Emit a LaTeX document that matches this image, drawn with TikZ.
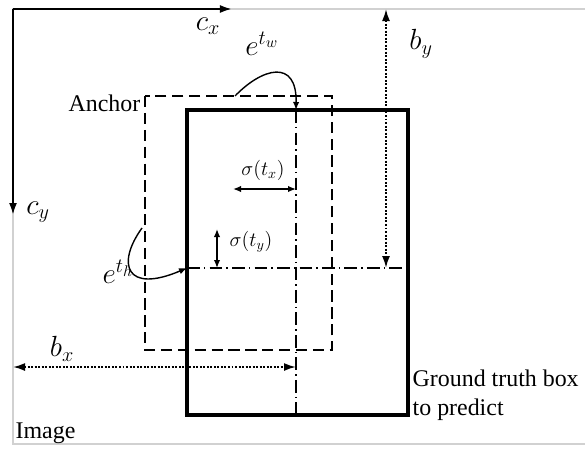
\documentclass[tikz,border=0pt]{standalone}
\usepackage{fontspec}
\setmainfont{Liberation Serif}
\usetikzlibrary{arrows.meta}

\begin{document}
\begin{tikzpicture}[
    x=0.025cm, y=-0.025cm,
    frame/.style={draw=black!18, line width=1.3pt},
    axis/.style={-{Latex[length=3mm, width=2mm]}, line width=1.5pt},
    anchorbox/.style={draw, dash pattern=on 8pt off 4pt, line width=1.3pt},
    gtbox/.style={draw, line width=2.3pt},
    centre/.style={line width=1.3pt, dash pattern=on 9pt off 3pt on 1pt off 3pt},
    offset/.style={{Latex[length=2mm, width=1.6mm]}-{Latex[length=2mm, width=1.6mm]}, line width=1pt},
    measure/.style={{Latex[length=3mm, width=2mm]}-{Latex[length=3mm, width=2mm]}, line width=1.3pt, dash pattern=on 1.4pt off 1.1pt},
    scalecurve/.style={-{Latex[length=2mm, width=1.6mm]}, line width=1pt},
    txt/.style={inner sep=1pt, font=\fontsize{17}{21}\selectfont},
    mathtxt/.style={inner sep=1pt, font=\fontsize{21}{23}\selectfont},
    sigtxt/.style={inner sep=1pt, font=\fontsize{14}{16}\selectfont}
]
\useasboundingbox (0,0) rectangle (585,448);

% image frame
\coordinate (origin) at (13,9);
\coordinate (cxend) at (232,9);
\coordinate (cyend) at (13,215);
\draw [frame] (585,9) -- (origin) -- (13,444) -- (585,444);
\draw [axis] (origin) -- (cxend);
\draw [axis] (origin) -- (cyend);

% boxes
\coordinate (anchortl) at (145,96);
\coordinate (anchorbr) at (332,350);
\coordinate (gttl) at (187,110);
\coordinate (gtbr) at (408,415);
\draw [anchorbox] (anchortl) rectangle (anchorbr);
\draw [gtbox] (gttl) rectangle (gtbr);

% centre lines of the ground truth box
\coordinate (gttop) at (296,110);
\coordinate (gtbottom) at (296,415);
\coordinate (gtleft) at (187,268);
\coordinate (gtright) at (408,268);
\draw [centre] (gttop) -- (gtbottom);
\draw [centre] (gtleft) -- (gtright);

% offsets
\coordinate (sxleft) at (233,189);
\coordinate (sxright) at (296,189);
\coordinate (sytop) at (217,229);
\coordinate (sybottom) at (217,268);
\draw [offset] (sxleft) -- (sxright);
\draw [offset] (sytop) -- (sybottom);

% scale curves
\coordinate (twstart) at (235,96);
\coordinate (thstart) at (142,228);
\draw [scalecurve] (twstart) .. controls (262,68) and (297,58) .. (gttop);
\draw [scalecurve] (thstart) .. controls (116,264) and (126,294) .. (gtleft);

% distances to the image edges
\coordinate (bytop) at (386,9);
\coordinate (bybottom) at (386,268);
\coordinate (bxleft) at (13,367);
\coordinate (bxright) at (296,367);
\draw [measure] (bytop) -- (bybottom);
\draw [measure] (bxleft) -- (bxright);

% labels
\node (cx) [mathtxt] at (208,26) {$c_x$};
\node (cy) [mathtxt] at (38,212) {$c_y$};
\node (bx) [mathtxt] at (62,349) {$b_x$};
\node (by) [mathtxt] at (421,44) {$b_y$};
\node (tw) [mathtxt] at (262,44) {$e^{t_w}$};
\node (th) [mathtxt] at (118,272) {$e^{t_h}$};
\node (sx) [sigtxt] at (263,170) {$\sigma(t_x)$};
\node (sy) [sigtxt] at (251,242) {$\sigma(t_y)$};
\node (anchorlbl) [txt, anchor=east] at (142,103) {Anchor};
\node (gtlbl) [txt, anchor=north west, align=left] at (411,368) {Ground truth box\\to predict};
\node (imagelbl) [txt, anchor=base west] at (14,438) {Image};

\end{tikzpicture}
\end{document}
